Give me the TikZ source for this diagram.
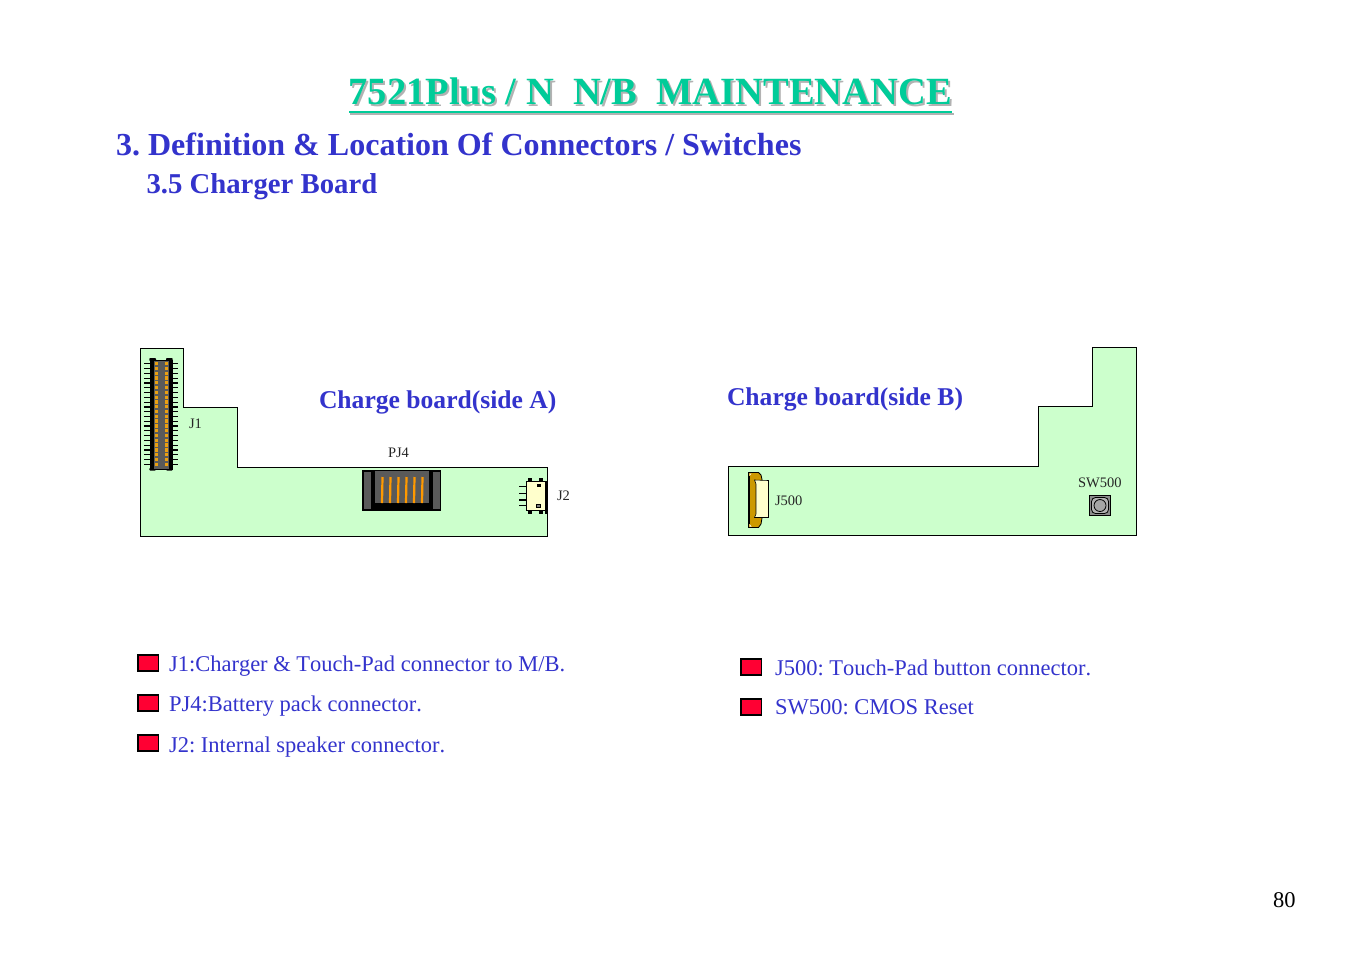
\documentclass[tikz,border=0pt]{standalone}
\usepackage{fontspec}
\setmainfont[Kerning=Off]{Liberation Serif}
\definecolor{blu}{HTML}{3333CC}
\definecolor{teal1}{HTML}{00CC99}
\definecolor{shad}{HTML}{B2B2B2}
\definecolor{board}{HTML}{CCFFCC}
\definecolor{redb}{HTML}{FF0033}
\definecolor{dgrey}{HTML}{5A5A5A}
\definecolor{pinorange}{HTML}{EBA010}
\definecolor{ora}{HTML}{FF9900}
\definecolor{gold}{HTML}{CC9900}
\definecolor{cream}{HTML}{FFFFCC}
\newcommand{\fs}[1]{\fontsize{#1}{#1}\selectfont}
\frenchspacing
\tikzset{
  x=1pt,y=-1pt,
  txt/.style={inner sep=0pt,outer sep=0pt,anchor=base west},
  titletxt/.style={txt,font=\fs{38.5}\bfseries},
  head/.style={txt,font=\fs{32.05}\bfseries,text=blu},
  sub/.style={txt,font=\fs{28.75}\bfseries,text=blu},
  side/.style={txt,font=\fs{25.6}\bfseries,text=blu},
  lab/.style={txt,font=\fs{14.5},text=black!85},
  item/.style={txt,font=\fs{22.5},text=blu},
  boardshape/.style={draw=black,fill=board,line width=1pt},
  bullet/.style={draw=black,fill=redb,line width=1.5pt},
}
\begin{document}
\begin{tikzpicture}
\useasboundingbox (0,0) rectangle (1351,954);
% title
\node[titletxt,text=shad] (tshadow) at (350.5,106) {7521Plus / N\ \ N/B\ \ MAINTENANCE};
\node[titletxt,text=teal1] (title) at (348.5,104) {7521Plus / N\ \ N/B\ \ MAINTENANCE};
\fill[shad] (350,112.5) rectangle (954,114.5);
\fill[teal1] (349,111) rectangle (952,113);
\node[head] (h1) at (116,155) {3. Definition \& Location Of Connectors / Switches};
\node[sub] (h2) at (146.5,193) {3.5 Charger Board};
% board A
\draw[boardshape] (140.5,348.5) -- (183.5,348.5) -- (183.5,407.5) -- (237.5,407.5) -- (237.5,467.5) -- (547.5,467.5) -- (547.5,536.5) -- (140.5,536.5) -- cycle;
\node[side] (sa) at (319,408) {Charge board(side A)};
% J1
\foreach \i in {0,...,21}{
  \fill[black] (144,{363.2+\i*4.79}) rectangle (150,{364.4+\i*4.79});
  \fill[black] (172,{363.2+\i*4.79}) rectangle (178,{364.4+\i*4.79});
}
\fill[black,rounded corners=0.8] (149.3,358) rectangle (156,361);
\fill[black,rounded corners=0.8] (166,358) rectangle (172.7,361);
\fill[black,rounded corners=0.8] (149.3,468) rectangle (156,470.5);
\fill[black,rounded corners=0.8] (166,468) rectangle (172.7,470.5);
\fill[black] (149.8,360) rectangle (172.5,470);
\fill[dgrey] (154,360.5) rectangle (169.3,469);
\foreach \i in {0,...,21}{
  \fill[pinorange] (155,{362+\i*4.79}) rectangle (158,{365.3+\i*4.79});
  \fill[pinorange] (164.7,{362+\i*4.79}) rectangle (167.7,{365.3+\i*4.79});
}
\node[lab] (j1) at (189,428) {J1};
% PJ4
\fill[black] (362,470) rectangle (441,511);
\fill[dgrey] (363.5,471.5) rectangle (371,508.5);
\fill[dgrey] (433,471.5) rectangle (440,508.5);
\fill[dgrey] (375,471) rectangle (429,503);
\foreach \x in {382,390,398,406,414,422}{
  \draw[ora,line width=2.2pt] (\x.5,477) -- (\x,503);
}
\node[lab] (pj4) at (388,457.5) {PJ4};
% J2
\fill[black] (545,481) rectangle (547.5,513.5);
\foreach \y in {486.7,493.3,500,505.7}{
  \fill[black] (518.5,\y-0.7) rectangle (527,\y+0.7);
}
\fill[black] (528,478) rectangle (532,482);
\fill[black] (539,478) rectangle (543,482);
\fill[black] (528,510) rectangle (532,514);
\fill[black] (539,510) rectangle (543,514);
\draw[black,fill=cream,line width=1pt] (526.5,481.5) rectangle (545,510.5);
\fill[black] (536.5,484) rectangle (540.7,486.7);
\draw[black,fill=black!50,line width=.8pt] (536.5,504) rectangle (540.5,507);
\node[lab] (j2) at (557,500) {J2};
% board B
\draw[boardshape] (728.5,466.5) -- (1038.5,466.5) -- (1038.5,406.5) -- (1092.5,406.5) -- (1092.5,347.5) -- (1136.5,347.5) -- (1136.5,535.5) -- (728.5,535.5) -- cycle;
\draw[black,line width=1.5pt] (1136.5,347.5) -- (1136.5,535.5);
\node[side] (sb) at (727,405) {Charge board(side B)};
% J500
\draw[black,fill=gold,line width=.8pt] (748.5,472.5) -- (758.5,472.5) -- (761,475) -- (762,479.5) -- (762,518) -- (761,524) -- (758.5,527.5) -- (748.5,527.5) -- cycle;
\draw[black,fill=cream,line width=.6pt] (754.5,480) -- (768.5,480.5) -- (768.5,517.5) -- (754.5,517.5) -- (756,514) -- (756,484) -- cycle;
\fill[black] (748.5,476) rectangle (750,524);
\fill[white] (749.5,473.5) -- (751.5,473.5) -- (749.5,476) -- cycle;
\fill[white] (749.5,526.5) -- (751.5,526.5) -- (749.5,524) -- cycle;
\node[lab] (j500) at (775,505) {J500};
% SW500
\draw[black,fill=black!45,line width=1pt] (1089.5,495.5) rectangle (1110.5,515.5);
\draw[black,fill=black!30,line width=.8pt,rounded corners=4] (1091.5,497.5) rectangle (1108.5,513.5);
\draw[black,fill=black!35,line width=.8pt] (1100,505.5) circle[radius=6];
\node[lab] (sw) at (1078,487) {SW500};
% legend
\draw[bullet] (138,655) rectangle (158.5,671);
\draw[bullet] (138,695) rectangle (158.5,711);
\draw[bullet] (138,735) rectangle (158.5,751);
\draw[bullet] (741,659) rectangle (761.5,675);
\draw[bullet] (741,699) rectangle (761.5,715);
\node[item] (l1) at (169,671) {J1:Charger \& Touch-Pad connector to M/B.};
\node[item] (l2) at (169,711) {PJ4:Battery pack connector.};
\node[item] (l3) at (169,752) {J2: Internal speaker connector.};
\node[item] (l4) at (775,675) {J500: Touch-Pad button connector.};
\node[item] (l5) at (775,714) {SW500: CMOS Reset};
\node[txt,font=\fs{22.5}] (pg) at (1273,907) {80};
\end{tikzpicture}
\end{document}
